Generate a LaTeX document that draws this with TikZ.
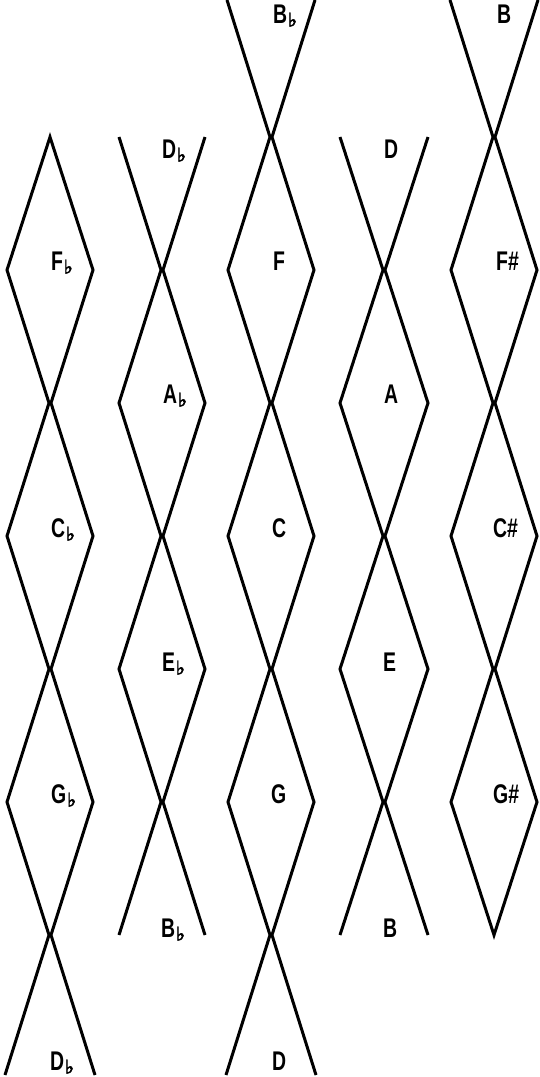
\documentclass[tikz,border=0pt]{standalone}
\usepackage{fontspec}
\setmainfont{Liberation Sans}
\newfontfamily\labf[FakeStretch=0.72]{Liberation Sans}
\newfontfamily\symf[FakeBold=3]{DejaVu Sans}
\newcommand\fl{\kern0.8pt\raisebox{-3.5pt}{\fontsize{19}{19}\selectfont\symf ♭}}
\begin{document}
\begin{tikzpicture}[x=1pt,y=-1pt,
  zig/.style={line width=3pt, line join=miter},
  lab/.style={font=\labf\bfseries\fontsize{27}{27}\selectfont, inner sep=0pt, anchor=base west}]
\useasboundingbox (0,0) rectangle (540,1077);
% column 1
\draw[zig] (5,1075) -- (49,935) -- (7,802) -- (49,669) -- (7,536) -- (49,403) -- (7,270) -- (50,137)
  -- (93,270) -- (51,403) -- (93,536) -- (51,669) -- (93,802) -- (51,935) -- (95,1075);
% column 2
\draw[zig] (119,137) -- (161,270) -- (119,403) -- (161,536) -- (119,669) -- (161,802) -- (119,935);
\draw[zig] (205,137) -- (163,270) -- (205,403) -- (163,536) -- (205,669) -- (163,802) -- (205,935);
% column 3
\draw[zig] (227,0) -- (270,137) -- (228,270) -- (270,403) -- (228,536) -- (270,669) -- (228,802) -- (270,935) -- (226,1075);
\draw[zig] (315,0) -- (272,137) -- (314,270) -- (272,403) -- (314,536) -- (272,669) -- (314,802) -- (272,935) -- (316,1075);
% column 4
\draw[zig] (340,137) -- (383,270) -- (340,403) -- (383,536) -- (340,669) -- (383,802) -- (340,935);
\draw[zig] (428,137) -- (385,270) -- (428,403) -- (385,536) -- (428,669) -- (385,802) -- (428,935);
% column 5
\draw[zig] (450,0) -- (493,137) -- (451,270) -- (493,403) -- (451,536) -- (493,669) -- (451,802) -- (494,935)
  -- (537,802) -- (495,669) -- (537,536) -- (495,403) -- (537,270) -- (495,137) -- (538,0);
% labels
\node[lab] (Fb)  at (51,270)  {F\fl};
\node[lab] (Cb)  at (51,537)  {C\fl};
\node[lab] (Gb)  at (51,803)  {G\fl};
\node[lab] (Dbb) at (50,1070) {D\fl};
\node[lab] (Dbt) at (162,158) {D\fl};
\node[lab] (Ab)  at (163,403) {A\fl};
\node[lab] (Eb)  at (162,671) {E\fl};
\node[lab] (Bbb) at (161,937) {B\fl};
\node[lab] (Bbt) at (273,23)  {B\fl};
\node[lab] (F)   at (273,270) {F};
\node[lab] (C)   at (272,537) {C};
\node[lab] (G)   at (271,803) {G};
\node[lab] (Db)  at (272,1070) {D};
\node[lab] (Dt)  at (384,158) {D};
\node[lab] (A)   at (384,403) {A};
\node[lab] (E)   at (383,671) {E};
\node[lab] (Bb)  at (383,937) {B};
\node[lab] (Bt)  at (497,23)  {B};
\node[lab] (Fs)  at (496,270) {F\#};
\node[lab] (Cs)  at (493,537) {C\#};
\node[lab] (Gs)  at (493,803) {G\#};
\end{tikzpicture}
\end{document}
